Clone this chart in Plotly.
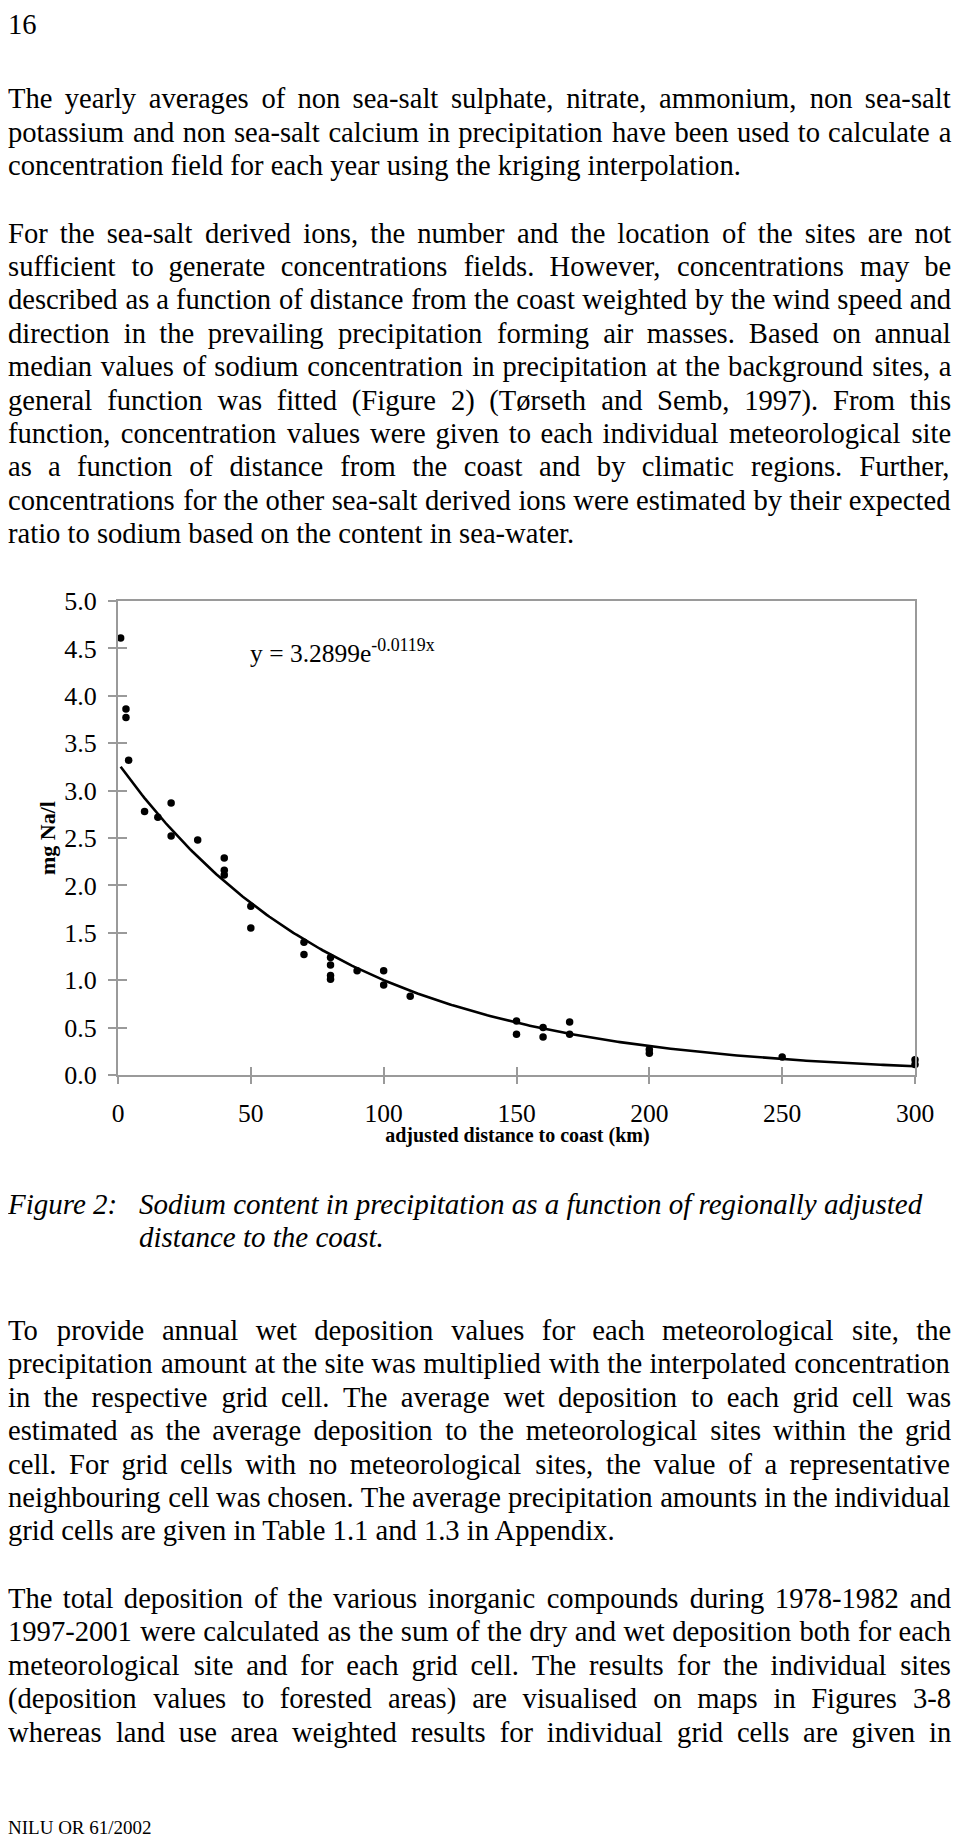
import numpy as np
import plotly.graph_objects as go

# The page body keeps its default 8px margin, so the figure fills the
# 960x1846 window exactly: 944x1830 placed at (8, 8).  All positions below
# are written in page pixels and converted to figure coordinates.
PAGE_W, PAGE_H = 960, 1846
OX, OY = 8, 8
W, H = PAGE_W - 2 * OX, PAGE_H - 2 * OY

# ---------------- chart data ----------------
distance_km = [1, 3, 3, 4, 10, 15, 20, 20, 30, 40, 40, 40, 50, 50, 70, 70,
               80, 80, 80, 80, 90, 100, 100, 110, 150, 150, 160, 160, 170, 170,
               200, 200, 250, 300, 300]
sodium_mg_l = [4.61, 3.86, 3.77, 3.32, 2.78, 2.72, 2.87, 2.52, 2.48, 2.29, 2.16, 2.11,
               1.78, 1.55, 1.40, 1.27, 1.24, 1.16, 1.05, 1.01, 1.10, 1.10, 0.95, 0.83,
               0.57, 0.43, 0.50, 0.40, 0.56, 0.43, 0.27, 0.23, 0.19, 0.16, 0.11]
fit_a = 3.2899
fit_b = -0.0119
fit_x_start, fit_x_end = 1, 300
x_ticks = [0, 50, 100, 150, 200, 250, 300]
y_ticks = [0.0, 0.5, 1.0, 1.5, 2.0, 2.5, 3.0, 3.5, 4.0, 4.5, 5.0]
y_tick_labels = ["0.0", "0.5", "1.0", "1.5", "2.0", "2.5", "3.0", "3.5", "4.0", "4.5", "5.0"]
x_title = "adjusted distance to coast (km)"
y_title = "mg Na/l"

# ---------------- page text ----------------
page_number = "16"
para1 = ["The yearly averages of non sea-salt sulphate, nitrate, ammonium, non sea-salt",
         "potassium and non sea-salt calcium in precipitation have been used to calculate a",
         "concentration field for each year using the kriging interpolation."]
para2 = ["For the sea-salt derived ions, the number and the location of the sites are not",
         "sufficient to generate concentrations fields. However, concentrations may be",
         "described as a function of distance from the coast weighted by the wind speed and",
         "direction in the prevailing precipitation forming air masses. Based on annual",
         "median values of sodium concentration in precipitation at the background sites, a",
         "general function was fitted (Figure 2) (Tørseth and Semb, 1997). From this",
         "function, concentration values were given to each individual meteorological site",
         "as a function of distance from the coast and by climatic regions. Further,",
         "concentrations for the other sea-salt derived ions were estimated by their expected",
         "ratio to sodium based on the content in sea-water."]
caption_label = "Figure 2:"
caption_lines = ["Sodium content in precipitation as a function of regionally adjusted",
                 "distance to the coast."]
para3 = ["To provide annual wet deposition values for each meteorological site, the",
         "precipitation amount at the site was multiplied with the interpolated concentration",
         "in the respective grid cell. The average wet deposition to each grid cell was",
         "estimated as the average deposition to the meteorological sites within the grid",
         "cell. For grid cells with no meteorological sites, the value of a representative",
         "neighbouring cell was chosen. The average precipitation amounts in the individual",
         "grid cells are given in Table 1.1 and 1.3 in Appendix."]
para4 = ["The total deposition of the various inorganic compounds during 1978-1982 and",
         "1997-2001 were calculated as the sum of the dry and wet deposition both for each",
         "meteorological site and for each grid cell. The results for the individual sites",
         "(deposition values to forested areas) are visualised on maps in Figures 3-8",
         "whereas land use area weighted results for individual grid cells are given in"]
footer = "NILU OR 61/2002"

# ---------------- layout constants (page pixels) ----------------
FONT = "Liberation Serif"
FS = 28.6
CAP_FS = 29
LEAD = 33.4
LEFT, RIGHT = 8, 951.5
PLOT_L, PLOT_R, PLOT_T, PLOT_B = 118, 915, 601, 1075
AXIS_GREY = "#9a9a9a"
KW = 1.01  # safety factor on Times AFM advance widths

# Times-Roman advance widths (1/1000 em)
CW = {' ': 250, '!': 333, ',': 250, '-': 333, '.': 250, '/': 278, ':': 278, '(': 333, ')': 333,
      'A': 722, 'B': 667, 'C': 667, 'D': 722, 'E': 611, 'F': 556, 'G': 722, 'H': 722, 'I': 333,
      'J': 389, 'K': 722, 'L': 611, 'M': 889, 'N': 722, 'O': 722, 'P': 556, 'Q': 722, 'R': 667,
      'S': 556, 'T': 611, 'U': 722, 'V': 722, 'W': 944, 'X': 722, 'Y': 722, 'Z': 611,
      'a': 444, 'b': 500, 'c': 444, 'd': 500, 'e': 444, 'f': 333, 'g': 500, 'h': 500, 'i': 278,
      'j': 278, 'k': 500, 'l': 278, 'm': 778, 'n': 500, 'o': 500, 'p': 500, 'q': 500, 'r': 333,
      's': 389, 't': 278, 'u': 500, 'v': 500, 'w': 722, 'x': 500, 'y': 500, 'z': 444, 'ø': 500}


def tw(s, fs):
    return sum(CW.get(c, 500) for c in s) / 1000.0 * fs * KW


def px(x):
    return (x - OX) / W


def py(y):
    return 1 - (y - OY) / H


# text items drawn by one text trace in a full-page pixel subplot
tx, ty, tt, tsize = [], [], [], []


def add_text(x, baseline, text, fs=FS, italic=False, bold=False):
    t = text
    if italic:
        t = "<i>" + t + "</i>"
    if bold:
        t = "<b>" + t + "</b>"
    tx.append(x - OX)
    ty.append(baseline - OY - 0.25 * fs)   # 'middle right' puts baseline 0.25em below
    tt.append(t)
    tsize.append(fs)


def add_paragraph(lines, first_baseline, justify_last=False):
    for k, line in enumerate(lines):
        base = first_baseline + k * LEAD
        last = (k == len(lines) - 1) and not justify_last
        if last:
            add_text(LEFT, base, line)
            continue
        words = line.split(" ")
        total = sum(tw(w, FS) for w in words)
        gap = (RIGHT - LEFT - total) / (len(words) - 1)
        x = LEFT
        for w in words:
            add_text(x, base, w)
            x += tw(w, FS) + gap


add_text(LEFT, 33.5, page_number)
add_paragraph(para1, 108.3)
add_paragraph(para2, 242.7)
add_text(LEFT, 1214, caption_label, fs=CAP_FS, italic=True)
add_text(139, 1214, caption_lines[0], fs=CAP_FS, italic=True)
add_text(139, 1247, caption_lines[1], fs=CAP_FS, italic=True)
add_paragraph(para3, 1340)
add_paragraph(para4, 1608, justify_last=True)
add_text(LEFT, 1834, footer, fs=19)
add_text(250, 662, "y = %.4fe<sup>%.4fx</sup>" % (fit_a, fit_b), fs=25.5)

x_title_w = sum(CW.get(c, 500) for c in x_title) / 1000.0 * 20 * 1.06
add_text((PLOT_L + PLOT_R) / 2 - x_title_w / 2, 1142, x_title, fs=20, bold=True)

annotations = [dict(x=px(47), y=py(838), xref="paper", yref="paper",
                    xanchor="center", yanchor="middle", showarrow=False, borderpad=0,
                    borderwidth=0, textangle=-90, text="<b>" + y_title + "</b>",
                    font=dict(family=FONT, size=22, color="black"))]

# ---------------- figure ----------------
fit_x = np.linspace(fit_x_start, fit_x_end, 300)
fit_y = fit_a * np.exp(fit_b * fit_x)

fig = go.Figure()
fig.add_trace(go.Scatter(x=fit_x, y=fit_y, mode="lines",
                         line=dict(color="black", width=2.6), hoverinfo="skip",
                         cliponaxis=False))
fig.add_trace(go.Scatter(x=distance_km, y=sodium_mg_l, mode="markers",
                         marker=dict(color="black", size=7.5), cliponaxis=False))
fig.add_trace(go.Scatter(x=[None], y=[None], xaxis="x2", yaxis="y2", showlegend=False,
                         hoverinfo="skip"))
fig.add_trace(go.Scatter(x=tx, y=ty, text=tt, mode="text", textposition="middle right",
                         textfont=dict(family=FONT, size=tsize, color="black"),
                         xaxis="x3", yaxis="y3", cliponaxis=False, hoverinfo="skip",
                         showlegend=False))

xdom = [px(PLOT_L), px(PLOT_R)]
ydom = [py(PLOT_B), py(PLOT_T)]
axis_common = dict(showgrid=False, zeroline=False, linecolor=AXIS_GREY, linewidth=2,
                   tickcolor=AXIS_GREY, tickwidth=1.5)

fig.update_layout(
    width=W, height=H, autosize=False, margin=dict(l=0, r=0, t=0, b=0, pad=0),
    paper_bgcolor="white", plot_bgcolor="rgba(0,0,0,0)", showlegend=False,
    font=dict(family=FONT),
    xaxis=dict(domain=xdom, range=[0, 300], tickvals=x_ticks, ticks="outside", ticklen=7,
               showline=True, mirror=True, ticklabelstandoff=7, automargin=False,
               tickfont=dict(family=FONT, size=25.5, color="black"), **axis_common),
    yaxis=dict(domain=ydom, range=[0, 5], tickvals=y_ticks, ticktext=y_tick_labels,
               ticks="outside", ticklen=8, showline=True, mirror=True, ticklabelstandoff=6,
               automargin=False, tickfont=dict(family=FONT, size=26, color="black"),
               **axis_common),
    xaxis2=dict(overlaying="x", anchor="y", range=[0, 300], tickvals=x_ticks, ticks="inside",
                ticklen=8, showticklabels=False, showline=False, showgrid=False,
                zeroline=False, tickcolor=AXIS_GREY, tickwidth=1.5, automargin=False),
    yaxis2=dict(overlaying="y", anchor="x", side="left", range=[0, 5], tickvals=y_ticks,
                ticks="inside", ticklen=9, showticklabels=False, showline=False,
                showgrid=False, zeroline=False, tickcolor=AXIS_GREY, tickwidth=1.5,
                automargin=False),
    xaxis3=dict(domain=[0, 1], range=[0, W], anchor="y3", visible=False, fixedrange=True),
    yaxis3=dict(domain=[0, 1], range=[H, 0], anchor="x3", visible=False, fixedrange=True),
    annotations=annotations,
)

fig.write_html("out.html", config={"displayModeBar": False, "responsive": False})
